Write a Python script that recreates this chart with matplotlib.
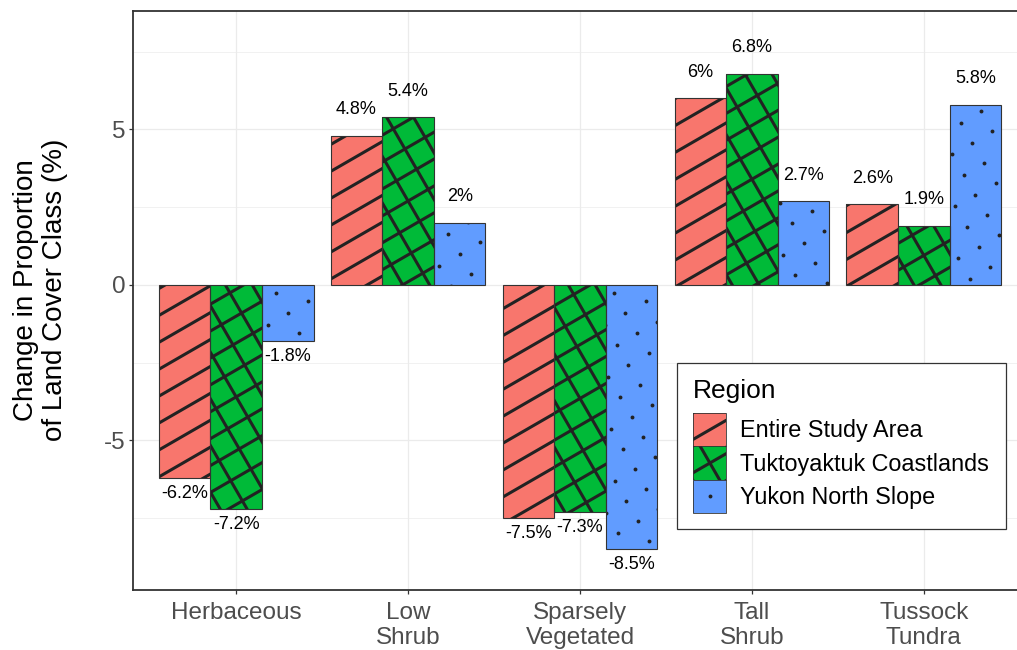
import numpy as np
import matplotlib
matplotlib.use("Agg")
import matplotlib.pyplot as plt
from matplotlib.lines import Line2D
from matplotlib.patches import Patch, Rectangle
from matplotlib.legend_handler import HandlerBase
from matplotlib.transforms import IdentityTransform
from matplotlib.ticker import MultipleLocator

plt.rcParams['font.family'] = ['Liberation Sans', 'DejaVu Sans']
plt.rcParams['axes.unicode_minus'] = False

# ---- data ----
categories = ["Herbaceous", "Low\nShrub", "Sparsely\nVegetated", "Tall\nShrub", "Tussock\nTundra"]
regions = ["Entire Study Area", "Tuktoyaktuk Coastlands", "Yukon North Slope"]
entire = [-6.2, 4.8, -7.5, 6.0, 2.6]
tuktoyaktuk = [-7.2, 5.4, -7.3, 6.8, 1.9]
yukon = [-1.8, 2.0, -8.5, 2.7, 5.8]

series = [entire, tuktoyaktuk, yukon]
colors = ["#F8766D", "#00BA38", "#619CFF"]
patterns = ["stripe", "crosshatch", "circle"]

PAT_COLOR = "#222222"
PAT_LW = 2.2          # points
SPACING_PX = 23.3     # pattern spacing in pixels
DOT_MS = 2.8

W, H = 1017, 650
fig = plt.figure(figsize=(W / 100, H / 100), dpi=100)
# panel runs off the right edge of the picture, as in the reference
ax = fig.add_axes([133 / W, 60 / H, (1027 - 133) / W, (590 - 11) / H])
ax.set_xlim(0.4, 5.6)
ax.set_ylim(-9.81, 8.81)


def pattern_artists(kind, x0, y0, w, h, sp, transform, lw, ms):
    """Lines/dots of a ggpattern-like fill, anchored at the box centre, angle 30 deg."""
    cx, cy = x0 + w / 2, y0 + h / 2
    R = np.hypot(w, h) / 2 + sp
    n = int(R // sp) + 1
    arts = []
    if kind in ("stripe", "crosshatch"):
        angles = [30] if kind == "stripe" else [30, 120]
        for a in angles:
            t = np.radians(a)
            dx, dy = np.cos(t), np.sin(t)
            nx, ny = -dy, dx
            for k in range(-n, n + 1):
                px, py = cx + k * sp * nx, cy + k * sp * ny
                arts.append(Line2D([px - R * dx, px + R * dx], [py - R * dy, py + R * dy],
                                   color=PAT_COLOR, lw=lw, solid_capstyle='butt',
                                   transform=transform, zorder=3))
    else:
        t = np.radians(30)
        dx, dy = np.cos(t), np.sin(t)
        nx, ny = -dy, dx
        xs, ys = [], []
        for i in range(-n, n + 1):
            for j in range(-n, n + 1):
                xs.append(cx + i * sp * dx + j * sp * nx)
                ys.append(cy + i * sp * dy + j * sp * ny)
        arts.append(Line2D(xs, ys, linestyle='none', marker='o', markersize=ms,
                           color=PAT_COLOR, markeredgewidth=0, transform=transform,
                           zorder=3))
    return arts


class PatternHandler(HandlerBase):
    def __init__(self, kind):
        super().__init__()
        self.kind = kind

    def create_artists(self, legend, orig_handle, xdescent, ydescent, width, height,
                       fontsize, trans):
        rect = Rectangle((-xdescent, -ydescent), width, height,
                         facecolor=orig_handle.get_facecolor(), edgecolor='none',
                         transform=trans)
        edge = Rectangle((-xdescent, -ydescent), width, height, fill=False,
                         edgecolor='#333333', lw=0.6, transform=trans)
        sp = SPACING_PX * 72 / fig.dpi
        arts = pattern_artists(self.kind, -xdescent, -ydescent, width, height, sp,
                               trans, PAT_LW, DOT_MS)
        for a in arts:
            a.set_clip_path(rect)
        return [rect] + arts + [edge]


x = np.arange(1, len(categories) + 1)
bw = 0.3
for j, (vals, col, kind) in enumerate(zip(series, colors, patterns)):
    xpos = x + (j - 1) * bw
    bars = ax.bar(xpos, vals, width=bw, color=col, edgecolor='none', zorder=2)
    ax.bar(xpos, vals, width=bw, fill=False, edgecolor='#333333', linewidth=0.8, zorder=4)
    for patch in bars:
        (x0, y0), (x1, y1) = ax.transData.transform(
            [(patch.get_x(), patch.get_y()),
             (patch.get_x() + patch.get_width(), patch.get_y() + patch.get_height())])
        xa, xb = sorted([x0, x1])
        ya, yb = sorted([y0, y1])
        for art in pattern_artists(kind, xa, ya, xb - xa, yb - ya, SPACING_PX,
                                   IdentityTransform(), PAT_LW, DOT_MS):
            ax.add_artist(art)
            art.set_clip_path(patch)   # after add_artist, which would reset it
    for xp, v in zip(xpos, vals):
        ax.annotate(f"{v:g}%", xy=(xp, v), xytext=(0, 18.7 if v > 0 else -11.2),
                    textcoords='offset points', ha='center', va='center',
                    fontsize=13, color='black', zorder=5)

# ---- axes styling (theme_bw look) ----
ax.set_xticks(x)
ax.set_xticklabels(categories)
ax.yaxis.set_major_locator(MultipleLocator(5))
ax.yaxis.set_minor_locator(MultipleLocator(2.5))
ax.set_axisbelow(True)
ax.grid(True, which='major', color='#EBEBEB', lw=0.9)
ax.grid(True, which='minor', axis='y', color='#EBEBEB', lw=0.5)
ax.tick_params(which='major', length=2.8, width=0.9, color='#333333',
               labelsize=17.5, labelcolor='#4D4D4D', pad=2.5)
ax.tick_params(axis='x', pad=6)
ax.tick_params(which='minor', length=0)
for lab in ax.get_xticklabels():
    lab.set_linespacing(1.15)
for sp_ in ax.spines.values():
    sp_.set_color('#333333')
    sp_.set_linewidth(1.3)

fig.text(41 / W, 1 - 290 / H, "Change in Proportion\nof Land Cover Class (%)",
         rotation=90, ha='center', va='center', fontsize=20, linespacing=1.15,
         multialignment='center')

handles = [Patch(facecolor=c, label=r) for c, r in zip(colors, regions)]
hmap = {h: PatternHandler(k) for h, k in zip(handles, patterns)}
leg = ax.legend(handles=handles, handler_map=hmap, title='Region', loc='upper left',
                bbox_to_anchor=(677 / W, 1 - 363 / H), bbox_transform=fig.transFigure,
                fontsize=16.8, title_fontsize=19, handlelength=1.42, handleheight=1.82,
                labelspacing=0, handletextpad=0.6, borderpad=0.7, borderaxespad=0,
                fancybox=False, edgecolor='#333333', framealpha=1, alignment='left')
leg._legend_box.sep = 7   # gap between title and keys
leg.get_frame().set_linewidth(0.9)
leg.set_zorder(10)

fig.savefig("out.png", dpi=100)
